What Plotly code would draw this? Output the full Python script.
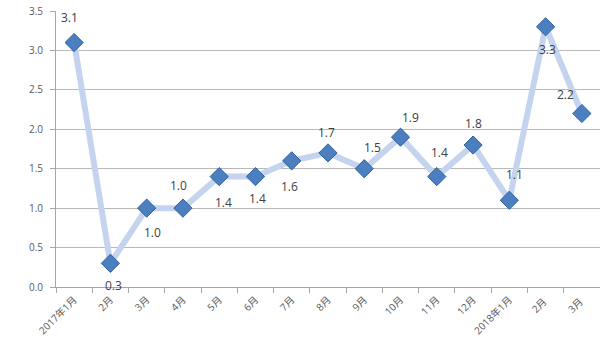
import plotly.graph_objects as go

# Monthly index values, Jan 2017 – Mar 2018
months = ["2017年1月", "2月", "3月", "4月", "5月", "6月", "7月", "8月", "9月",
          "10月", "11月", "12月", "2018年1月", "2月 ", "3月 "]
values = [3.1, 0.3, 1.0, 1.0, 1.4, 1.4, 1.6, 1.7, 1.5, 1.9, 1.4, 1.8, 1.1, 3.3, 2.2]
y_ticks = [0.0, 0.5, 1.0, 1.5, 2.0, 2.5, 3.0, 3.5]

# pixel offsets for each data label (dx, dy)
label_offsets = [(-5, 25), (3, -22), (6, -24), (-4, 23), (4, -26), (2, -22), (-2, -26),
                 (-2, 20), (8, 21), (10, 20), (3, 24), (0, 22), (5, 26), (2, -23), (-16, 19)]

fig = go.Figure()
fig.add_trace(go.Scatter(
    x=months, y=values, mode="lines+markers",
    line=dict(color="#c5d4ee", width=6),
    marker=dict(symbol="diamond", size=14, color="#4b7fc0",
                line=dict(color="#2f5f9e", width=1)),
    hoverinfo="x+y",
))

for m, v, (dx, dy) in zip(months, values, label_offsets):
    fig.add_annotation(x=m, y=v, text=f"{v:.1f}", showarrow=False,
                       xshift=dx, yshift=dy,
                       font=dict(family="Open Sans, Liberation Sans, sans-serif",
                                 size=12, color="#404040"))

fig.update_layout(
    width=600, height=346,
    margin=dict(l=56, r=0, t=11, b=59),
    paper_bgcolor="white", plot_bgcolor="white",
    showlegend=False,
    font=dict(family="Open Sans, Noto Sans CJK SC, sans-serif", color="#595959"),
)
fig.update_xaxes(
    type="category", range=[-0.5, len(months) - 0.5],
    tickangle=-45, tickfont=dict(size=10, color="#595959"),
    ticks="outside", tickson="boundaries", ticklen=5, tickcolor="#a6a6a6",
    ticklabelstandoff=2,
    showline=True, linecolor="#a6a6a6", linewidth=1,
    showgrid=False, zeroline=False,
)
fig.update_yaxes(
    range=[0, 3.5], tickvals=y_ticks, tickformat=".1f",
    tickfont=dict(size=10, color="#595959"),
    ticks="outside", ticklen=5, tickcolor="#a6a6a6",
    ticklabelstandoff=5,
    showline=True, linecolor="#a6a6a6", linewidth=1,
    showgrid=True, gridcolor="#b8b8b8", gridwidth=1, zeroline=False,
)

fig.write_html("out.html")
